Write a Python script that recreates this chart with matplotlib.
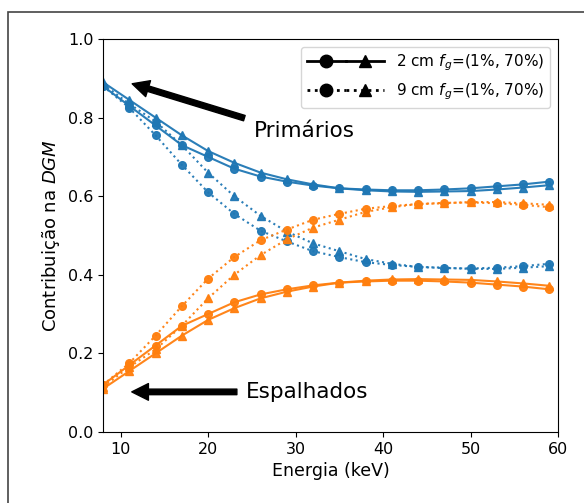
import matplotlib
matplotlib.use("Agg")
import matplotlib.pyplot as plt
from matplotlib.lines import Line2D
from matplotlib.legend_handler import HandlerTuple
from matplotlib.patches import Rectangle

# Energia (keV)
energia = [8, 11, 14, 17, 20, 23, 26, 29, 32, 35, 38, 41, 44, 47, 50, 53, 56, 59]

# 2 cm, primarios
prim_2cm_1 = [0.880, 0.830, 0.780, 0.730, 0.700, 0.670, 0.650, 0.637, 0.627, 0.620,
              0.617, 0.615, 0.615, 0.617, 0.620, 0.625, 0.630, 0.637]
prim_2cm_70 = [0.890, 0.845, 0.800, 0.755, 0.715, 0.685, 0.660, 0.643, 0.630, 0.620,
               0.615, 0.612, 0.611, 0.612, 0.613, 0.617, 0.622, 0.628]
# 2 cm, espalhados
esp_2cm_1 = [0.120, 0.170, 0.220, 0.270, 0.300, 0.330, 0.350, 0.363, 0.373, 0.380,
             0.383, 0.385, 0.385, 0.383, 0.380, 0.375, 0.370, 0.363]
esp_2cm_70 = [0.110, 0.155, 0.200, 0.245, 0.285, 0.315, 0.340, 0.357, 0.370, 0.380,
              0.385, 0.388, 0.389, 0.388, 0.387, 0.383, 0.378, 0.372]

# 9 cm, primarios
prim_9cm_1 = [0.880, 0.825, 0.755, 0.680, 0.610, 0.555, 0.512, 0.485, 0.460, 0.445,
              0.432, 0.425, 0.420, 0.417, 0.416, 0.418, 0.422, 0.428]
prim_9cm_70 = [0.885, 0.835, 0.790, 0.730, 0.660, 0.600, 0.550, 0.510, 0.480, 0.460,
               0.440, 0.428, 0.420, 0.418, 0.415, 0.415, 0.418, 0.422]
# 9 cm, espalhados
esp_9cm_1 = [0.120, 0.175, 0.245, 0.320, 0.390, 0.445, 0.488, 0.515, 0.540, 0.555,
             0.568, 0.575, 0.580, 0.583, 0.584, 0.582, 0.578, 0.572]
esp_9cm_70 = [0.115, 0.165, 0.210, 0.270, 0.340, 0.400, 0.450, 0.490, 0.520, 0.540,
              0.560, 0.572, 0.580, 0.582, 0.585, 0.585, 0.582, 0.578]

azul = '#1f77b4'
laranja = '#ff7f0e'

fig = plt.figure(figsize=(5.84, 5.03), dpi=100)
ax = fig.add_axes([0.1764, 0.1412, 0.7791, 0.7813])

kw = dict(markersize=5.5, linewidth=1.5, alpha=0.95)
ax.plot(energia, prim_2cm_1, '-', marker='o', color=azul, **kw)
ax.plot(energia, prim_2cm_70, '-', marker='^', color=azul, **kw)
ax.plot(energia, esp_2cm_1, '-', marker='o', color=laranja, **kw)
ax.plot(energia, esp_2cm_70, '-', marker='^', color=laranja, **kw)
ax.plot(energia, prim_9cm_1, ':', marker='o', color=azul, **kw)
ax.plot(energia, prim_9cm_70, ':', marker='^', color=azul, **kw)
ax.plot(energia, esp_9cm_1, ':', marker='o', color=laranja, **kw)
ax.plot(energia, esp_9cm_70, ':', marker='^', color=laranja, **kw)

ax.set_xlim(8, 60)
ax.set_ylim(0, 1)
ax.set_xticks([10, 20, 30, 40, 50, 60])
ax.set_yticks([0.0, 0.2, 0.4, 0.6, 0.8, 1.0])
ax.tick_params(labelsize=11.5)
ax.set_xlabel('Energia (keV)', fontsize=12.5)
ax.set_ylabel('Contribuição na $DGM$', fontsize=13)

ax.annotate('Primários', xy=(10.6, 0.891), xytext=(25.2, 0.766),
            fontsize=15.5, va='center',
            arrowprops=dict(facecolor='black', shrink=0.05, width=4, headwidth=12))
ax.annotate('Espalhados', xy=(10.6, 0.102), xytext=(24.3, 0.102),
            fontsize=15.5, va='center',
            arrowprops=dict(facecolor='black', shrink=0.05, width=4, headwidth=12))

h_kw = dict(color='black', linewidth=2, markersize=9)
h2o = Line2D([], [], linestyle='-', marker='o', **h_kw)
h2t = Line2D([], [], linestyle='-', marker='^', **h_kw)
h9o = Line2D([], [], linestyle=':', marker='o', **h_kw)
h9t = Line2D([], [], linestyle=':', marker='^', **h_kw)
ax.legend([(h2o, h2t), (h9o, h9t)],
          ['2 cm $f_g$=(1%, 70%)', '9 cm $f_g$=(1%, 70%)'],
          handler_map={tuple: HandlerTuple(ndivide=None, pad=0.0)},
          handlelength=5, fontsize=11, loc='upper right')

# moldura da figura
fig.patches.append(Rectangle((8 / 584, -0.2), 1.5, 0.2 + 1 - 12 / 503,
                             transform=fig.transFigure, fill=False,
                             edgecolor='#444444', linewidth=1.2))

fig.savefig('out.png', dpi=100)
